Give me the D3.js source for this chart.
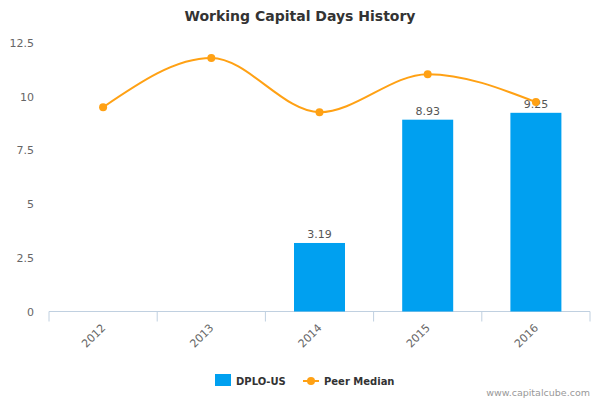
<!DOCTYPE html>
<html>
<head>
<meta charset="utf-8">
<script src="https://cdn.jsdelivr.net/npm/d3@7"></script>
<style>
  body { margin: 0; background: #fff; }
  text { font-family: "DejaVu Sans", Verdana, sans-serif; }
</style>
</head>
<body>
<div class="chart"></div>
<script>
var years = ["2012", "2013", "2014", "2015", "2016"];
var companyValues = [null, null, 3.19, 8.93, 9.25];
var peerMedian = [9.51, 11.8, 9.28, 11.05, 9.75];
var yTicks = [0, 2.5, 5, 7.5, 10, 12.5];

var width = 600;
var height = 400;
// note: "top" is reserved on window, so use plot* names
var plotLeft = 49, plotRight = 590, plotTop = 43, plotBottom = 311.5;

var svg = d3.select(".chart")
            .append("svg")
              .attr("width", width)
              .attr("height", height);

// title
svg.append("text")
  .attr("x", width / 2)
  .attr("y", 21)
  .attr("text-anchor", "middle")
  .attr("font-size", "14px")
  .attr("font-weight", "bold")
  .attr("fill", "#333")
  .text("Working Capital Days History");

var xScale = d3.scaleBand()
               .domain(years)
               .range([plotLeft, plotRight]);

var yScale = d3.scaleLinear()
               .domain([0, 12.5])
               .range([plotBottom, plotTop]);

// y axis labels (no line, no grid)
svg.selectAll(".ylabel")
  .data(yTicks)
  .enter()
  .append("text")
  .attr("class", "ylabel")
  .attr("x", 34)
  .attr("y", function(d) { return yScale(d) + 4; })
  .attr("text-anchor", "end")
  .attr("font-size", "11px")
  .attr("fill", "#666")
  .text(function(d) { return d; });

// x axis line + ticks at band edges
svg.append("line")
  .attr("x1", plotLeft).attr("x2", plotRight)
  .attr("y1", plotBottom).attr("y2", plotBottom)
  .attr("stroke", "#C0D0E0");

var edges = years.map(function(d) { return xScale(d); }).concat([plotRight]);
svg.selectAll(".xtick")
  .data(edges)
  .enter()
  .append("line")
  .attr("x1", function(d) { return d; })
  .attr("x2", function(d) { return d; })
  .attr("y1", plotBottom)
  .attr("y2", plotBottom + 10)
  .attr("stroke", "#C0D0E0");

svg.selectAll(".xlabel")
  .data(years)
  .enter()
  .append("text")
  .attr("class", "xlabel")
  .attr("text-anchor", "end")
  .attr("font-size", "11px")
  .attr("fill", "#666")
  .attr("transform", function(d) {
    var x = xScale(d) + xScale.bandwidth() / 2 + 3;
    return "translate(" + x + "," + (plotBottom + 17) + ") rotate(-45)";
  })
  .text(function(d) { return d; });

// bars
var barData = years.map(function(y, i) { return { year: y, value: companyValues[i] }; })
                   .filter(function(d) { return d.value !== null; });
var barWidth = 51;

svg.selectAll(".bar")
  .data(barData)
  .enter()
  .append("rect")
  .attr("class", "bar")
  .attr("x", function(d) { return xScale(d.year) + xScale.bandwidth() / 2 - barWidth / 2; })
  .attr("y", function(d) { return yScale(d.value); })
  .attr("width", barWidth)
  .attr("height", function(d) { return plotBottom - yScale(d.value); })
  .attr("fill", "#00A0F0");

svg.selectAll(".barlabel")
  .data(barData)
  .enter()
  .append("text")
  .attr("class", "barlabel")
  .attr("x", function(d) { return xScale(d.year) + xScale.bandwidth() / 2; })
  .attr("y", function(d) { return yScale(d.value) - 5; })
  .attr("text-anchor", "middle")
  .attr("font-size", "11px")
  .attr("fill", "#555")
  .text(function(d) { return d.value.toFixed(2); });

// peer median line
var lineData = years.map(function(y, i) { return { year: y, value: peerMedian[i] }; });
var line = d3.line()
  .x(function(d) { return xScale(d.year) + xScale.bandwidth() / 2; })
  .y(function(d) { return yScale(d.value); })
  .curve(d3.curveMonotoneX);

svg.append("path")
  .datum(lineData)
  .attr("d", line)
  .attr("fill", "none")
  .attr("stroke", "#FFA114")
  .attr("stroke-width", 2);

svg.selectAll(".dot")
  .data(lineData)
  .enter()
  .append("circle")
  .attr("class", "dot")
  .attr("cx", function(d) { return xScale(d.year) + xScale.bandwidth() / 2; })
  .attr("cy", function(d) { return yScale(d.value); })
  .attr("r", 4)
  .attr("fill", "#FFA114");

// legend
svg.append("rect")
  .attr("x", 215).attr("y", 374)
  .attr("width", 16).attr("height", 12)
  .attr("fill", "#00A0F0");
svg.append("text")
  .attr("x", 236).attr("y", 385)
  .attr("font-size", "10px")
  .attr("font-weight", "bold")
  .attr("fill", "#333")
  .text("DPLO-US");

svg.append("line")
  .attr("x1", 303).attr("x2", 319)
  .attr("y1", 381).attr("y2", 381)
  .attr("stroke", "#FFA114")
  .attr("stroke-width", 2);
svg.append("circle")
  .attr("cx", 311).attr("cy", 381)
  .attr("r", 4)
  .attr("fill", "#FFA114");
svg.append("text")
  .attr("x", 324).attr("y", 385)
  .attr("font-size", "10px")
  .attr("font-weight", "bold")
  .attr("fill", "#333")
  .text("Peer Median");

// credit
svg.append("text")
  .attr("x", 590).attr("y", 396)
  .attr("text-anchor", "end")
  .attr("font-size", "9.5px")
  .attr("fill", "#999")
  .text("www.capitalcube.com");
</script>
</body>
</html>
